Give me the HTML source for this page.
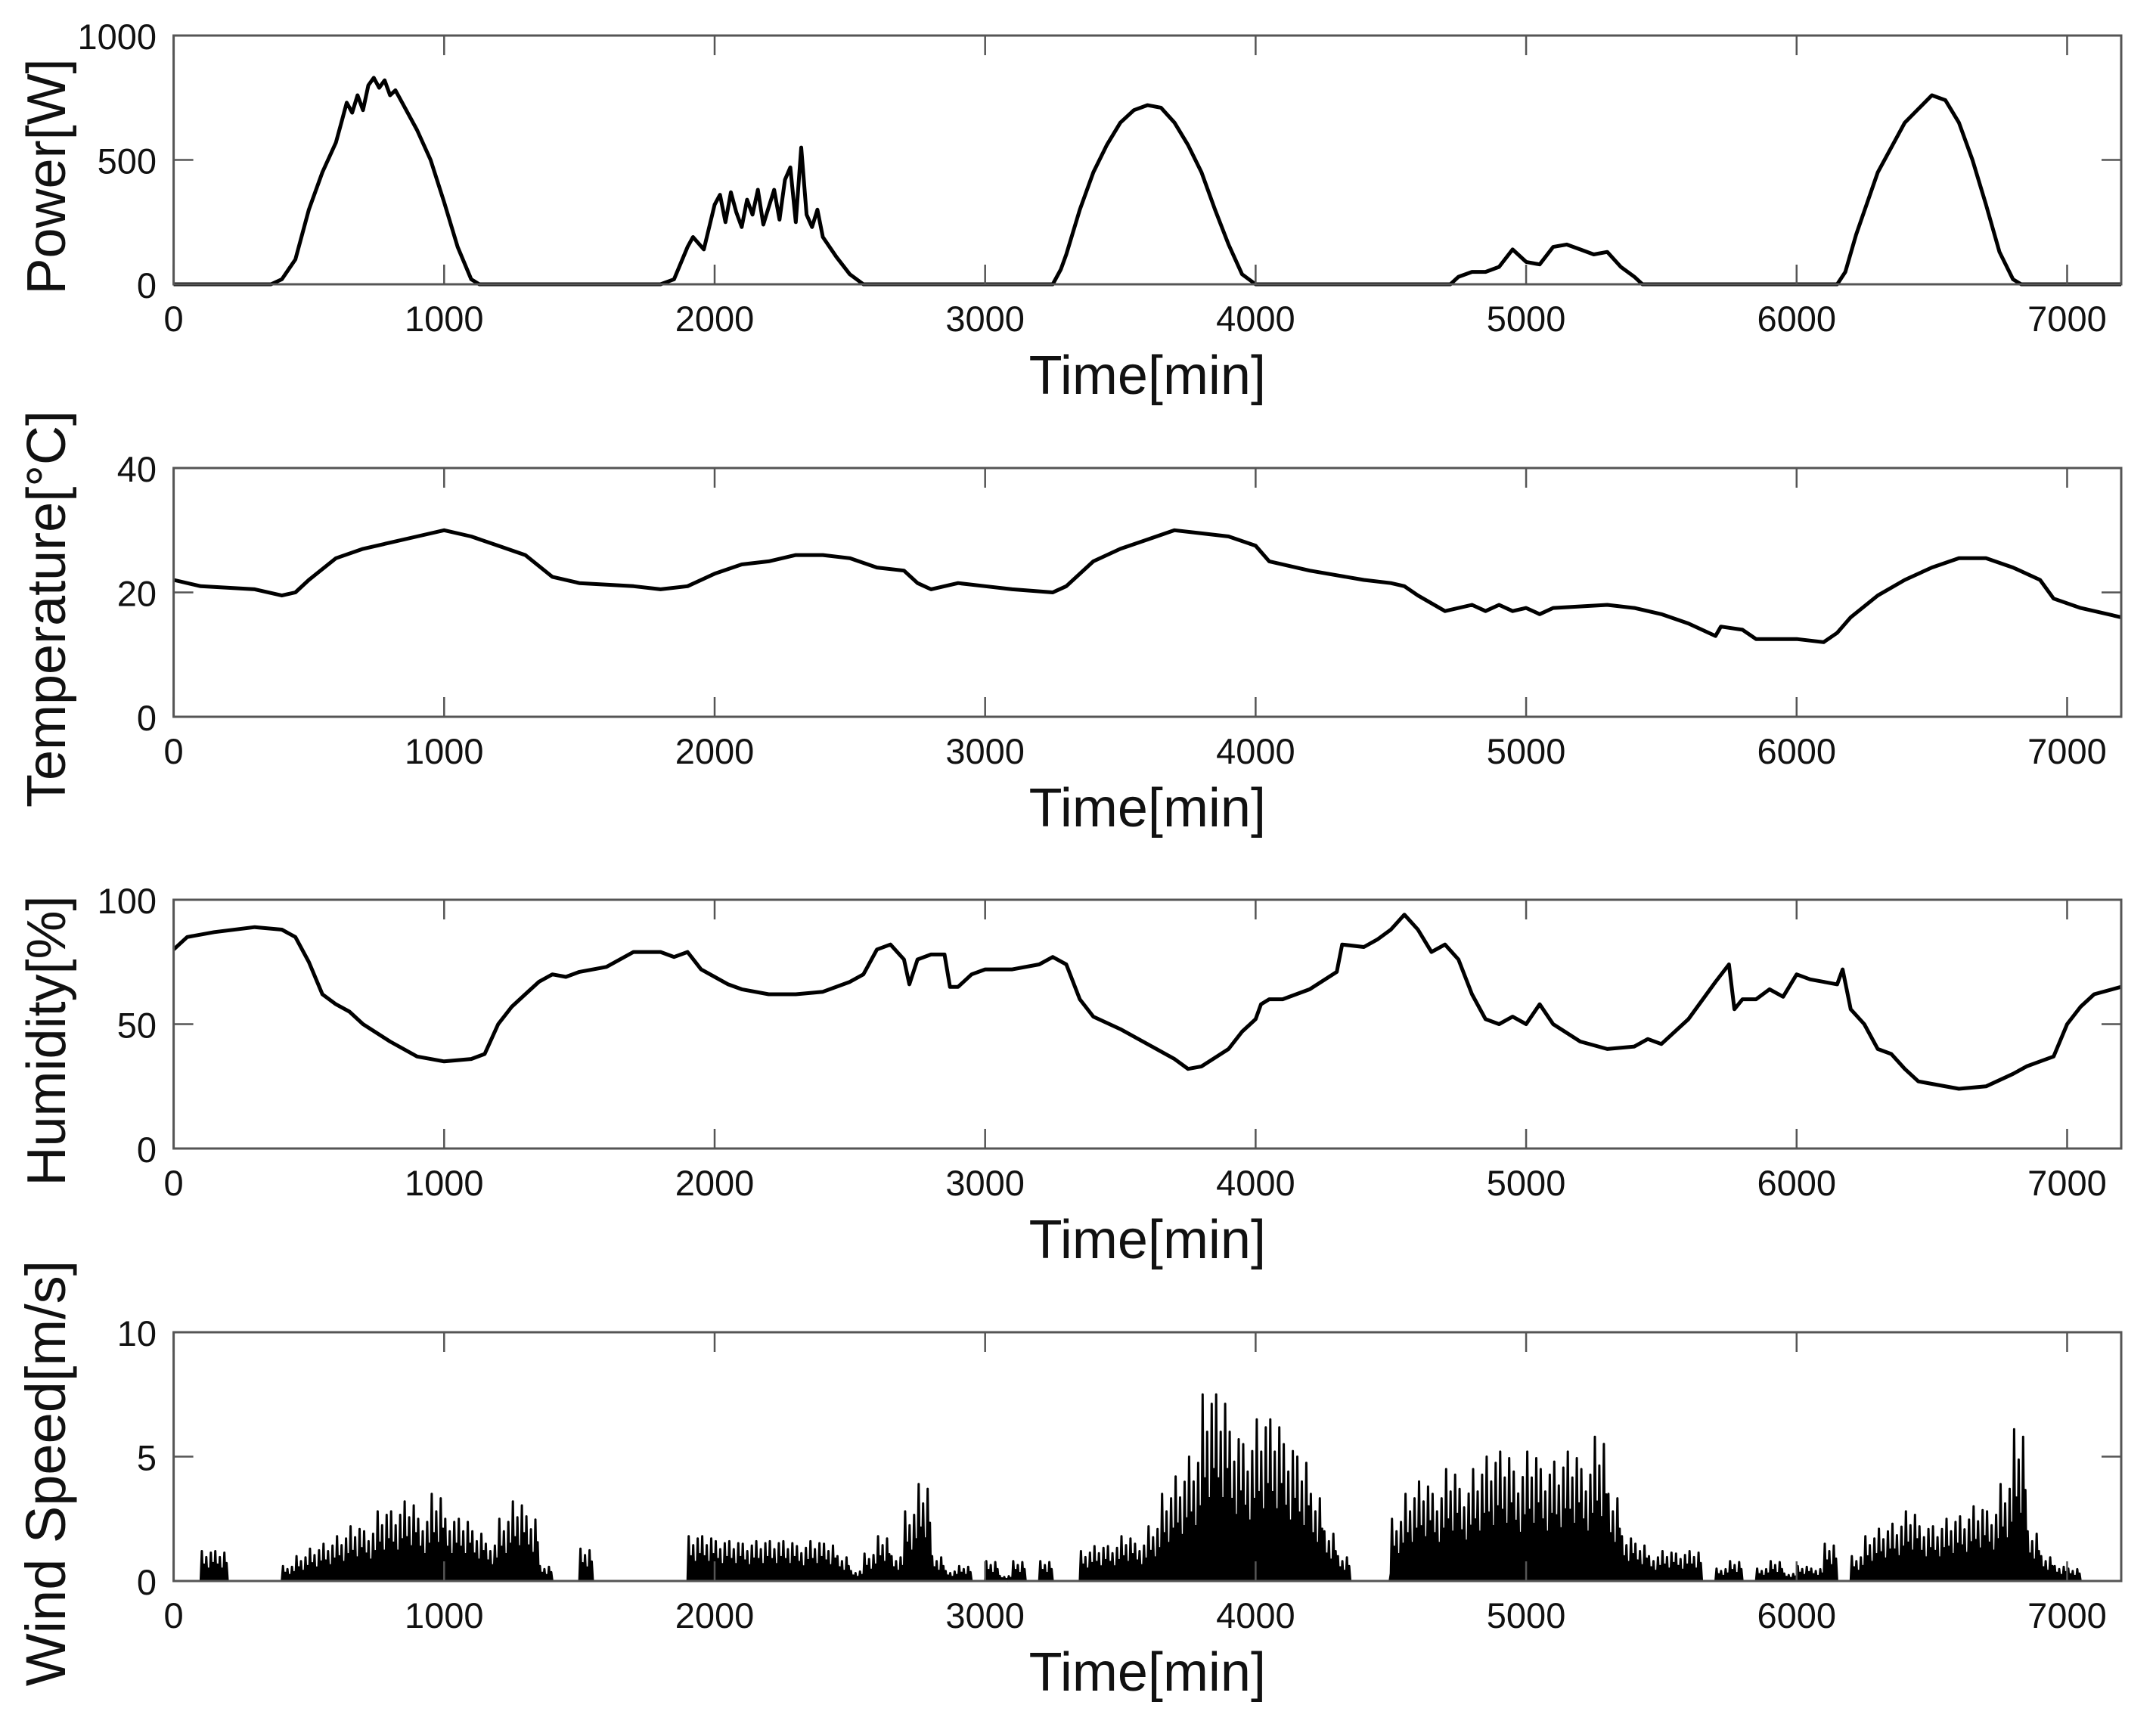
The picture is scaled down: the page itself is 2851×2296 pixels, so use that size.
<!DOCTYPE html>
<html><head><meta charset="utf-8"><style>
html,body{margin:0;padding:0;background:#fff;}
svg{display:block;font-family:"Liberation Sans",sans-serif;}
</style></head><body>
<svg id="fig" width="2851" height="2296" viewBox="0 0 2851 2296"></svg>
<script>
const xTicks=[0,1000,2000,3000,4000,5000,6000,7000];
const powerT=[0,360,400,450,500,550,600,620,640,660,680,700,720,740,760,780,800,820,850,900,950,1000,1050,1100,1130,1800,1850,1900,1920,1960,2000,2020,2040,2060,2080,2100,2120,2140,2160,2180,2200,2220,2240,2260,2280,2300,2320,2340,2360,2380,2400,2450,2500,2550,3250,3280,3300,3350,3400,3450,3500,3550,3600,3650,3700,3750,3800,3850,3900,3950,4000,4720,4750,4800,4850,4900,4950,5000,5050,5100,5150,5200,5250,5300,5350,5400,5430,6150,6180,6220,6300,6400,6500,6550,6600,6650,6700,6750,6800,6830,7200];
const powerV=[0,0,20,100,300,450,570,650,730,690,760,700,800,830,790,820,760,780,720,620,500,330,150,20,0,0,20,150,190,140,320,360,250,370,290,230,340,280,380,240,310,380,260,420,470,250,550,280,230,300,190,110,40,0,0,60,120,300,450,560,650,700,720,710,650,560,450,300,160,40,0,0,30,50,50,70,140,90,80,150,160,140,120,130,70,30,0,0,50,200,450,650,760,740,650,500,320,130,20,0,0];
const tempT=[0,100,300,400,450,500,600,700,800,900,1000,1100,1200,1300,1400,1500,1700,1800,1900,2000,2100,2200,2300,2400,2500,2600,2700,2750,2800,2850,2900,3000,3100,3250,3300,3400,3500,3600,3700,3800,3900,4000,4050,4200,4400,4500,4550,4600,4700,4800,4850,4900,4950,5000,5050,5100,5300,5400,5500,5600,5700,5720,5800,5850,6000,6100,6150,6200,6300,6400,6500,6600,6700,6800,6900,6950,7050,7200];
const tempV=[22,21,20.5,19.5,20,22,25.5,27,28,29,30,29,27.5,26,22.5,21.5,21,20.5,21,23,24.5,25,26,26,25.5,24,23.5,21.5,20.5,21,21.5,21,20.5,20,21,25,27,28.5,30,29.5,29,27.5,25,23.5,22,21.5,21,19.5,17,18,17,18,17,17.5,16.5,17.5,18,17.5,16.5,15,13,14.5,14,12.5,12.5,12,13.5,16,19.5,22,24,25.5,25.5,24,22,19,17.5,16];
const humT=[0,50,150,300,400,450,500,550,600,650,700,800,900,950,1000,1100,1150,1200,1250,1300,1350,1400,1450,1500,1600,1700,1800,1850,1900,1950,2000,2050,2100,2200,2300,2400,2500,2550,2600,2650,2700,2720,2750,2800,2850,2870,2900,2950,3000,3100,3200,3250,3300,3350,3400,3500,3600,3700,3750,3800,3900,3950,4000,4020,4050,4100,4200,4300,4320,4400,4450,4500,4550,4600,4650,4700,4750,4800,4850,4900,4950,5000,5050,5100,5200,5300,5400,5450,5500,5600,5700,5750,5770,5800,5850,5900,5950,6000,6050,6100,6150,6170,6200,6250,6300,6350,6400,6450,6500,6600,6700,6800,6850,6900,6950,7000,7050,7100,7200];
const humV=[80,85,87,89,88,85,75,62,58,55,50,43,37,36,35,36,38,50,57,62,67,70,69,71,73,79,79,77,79,72,69,66,64,62,62,63,67,70,80,82,76,66,76,78,78,65,65,70,72,72,74,77,74,60,53,48,42,36,32,33,40,47,52,58,60,60,64,71,82,81,84,88,94,88,79,82,76,62,52,50,53,50,58,50,43,40,41,44,42,52,67,74,56,60,60,64,61,70,68,67,66,72,56,50,40,38,32,27,26,24,25,30,33,35,37,50,57,62,65];
const windHigh=[0,0,1.2,1.2,0,0,0,0,0.6,1.0,1.3,1.5,1.8,2.2,2.0,2.8,2.8,3.2,2.5,3.5,2.5,2.5,2.0,1.5,2.5,3.2,2.6,0.6,0,0,1.3,0,0,0,0,0,0,0,1.8,1.8,1.6,1.6,1.5,1.6,1.6,1.6,1.4,1.6,1.5,1.0,0.4,1.1,1.8,1.0,2.8,3.9,1.0,0.4,0.6,0,0.8,0.2,0.8,0,0.8,0,0,1.2,1.4,1.4,1.8,1.5,2.2,3.5,4.2,5.0,7.5,7.5,6.0,5.5,6.5,6.5,5.5,5.0,3.5,2.0,1.0,0,0,0,2.5,3.5,4.0,3.5,4.5,3.7,4.5,5.0,5.2,4.4,5.2,4.5,4.8,5.2,4.5,5.8,3.5,1.8,1.5,1.0,1.2,1.1,1.2,0,0.5,0.8,0,0.5,0.8,0.3,0.6,0.5,1.5,0,1.0,1.8,2.1,2.3,2.8,2.2,2.2,2.5,2.6,3.0,2.8,3.9,6.1,2.0,1.0,0.6,0.5,0,0,0,0.3];
const windLow=[0,0,0,0,0,0,0,0,0,0,0,0.2,0.2,0.3,0.3,0.5,0.5,0.6,0.4,0.6,0.5,0.4,0.4,0.3,0.5,0.6,0.4,0,0,0,0,0,0,0,0,0,0,0,0,0.2,0.2,0.2,0.2,0.2,0.2,0.2,0.2,0.2,0.2,0,0,0,0,0,0.8,1.2,0,0,0,0,0,0,0,0,0,0,0,0,0,0.2,0.3,0.3,0.5,0.8,1.0,1.2,1.4,1.5,1.5,1.2,1.3,1.3,1.2,1.0,0.6,0.3,0,0,0,0,0.5,0.8,1.0,1.0,1.2,1.2,1.4,1.5,1.5,1.5,1.5,1.5,1.5,1.4,1.3,1.2,0.8,0.3,0.2,0,0,0,0,0,0,0,0,0,0,0,0,0,0,0,0,0.3,0.5,0.6,0.7,0.6,0.6,0.7,0.8,0.9,0.9,1.2,1.5,0.5,0.2,0,0,0,0,0,0];
const windStep=50;

const NS="http://www.w3.org/2000/svg";
const svg=document.getElementById('fig');
const X0=229.6,X1=2805,TMAX=7200,PH=329;
function xs(t){return X0+(X1-X0)*Math.min(t,TMAX)/TMAX;}
function mk(tag,attrs,parent){const e=document.createElementNS(NS,tag);for(const k in attrs)e.setAttribute(k,attrs[k]);(parent||svg).appendChild(e);return e;}

const panels=[
 {key:'power',label:'Power[W]',ymax:1000,yt:[0,500,1000],top:47},
 {key:'temperature',label:'Temperature[\u00B0C]',ymax:40,yt:[0,20,40],top:619},
 {key:'humidity',label:'Humidity[%]',ymax:100,yt:[0,50,100],top:1190},
 {key:'wind-speed',label:'Wind Speed[m/s]',ymax:10,yt:[0,5,10],top:1762}
];
panels.forEach((p,i)=>{
 const g=mk('g',{});
 
 
 const bot=p.top+PH;
 const ys=v=>bot-PH*v/p.ymax;
 let d='';
 if(p.key==='power'){powerT.forEach((t,j)=>{d+=(j?'L':'M')+xs(t).toFixed(1)+' '+ys(powerV[j]).toFixed(1);});}
 else if(p.key==='temperature'){tempT.forEach((t,j)=>{d+=(j?'L':'M')+xs(t).toFixed(1)+' '+ys(tempV[j]).toFixed(1);});}
 else if(p.key==='humidity'){humT.forEach((t,j)=>{d+=(j?'L':'M')+xs(t).toFixed(1)+' '+ys(humV[j]).toFixed(1);});}
 else {
  let core='M'+xs(0)+' '+ys(0);
  windHigh.forEach((v,j)=>{const t=j*windStep;
   if(t>=TMAX) return;
   core+='L'+xs(t).toFixed(1)+' '+ys(Math.max(windLow[j],v*0.45)).toFixed(1);
   core+='L'+xs(t+windStep).toFixed(1)+' '+ys(Math.max(windLow[j],v*0.45)).toFixed(1);
  });
  core+='L'+xs(TMAX)+' '+ys(0)+'Z';
  const c=mk('path',{d:core,fill:'#000',stroke:'none'},g);
  
  
  const f=[1,0.55,0.8,0.4,0.95,0.6];
  windHigh.forEach((v,j)=>{const t=j*windStep;
   if(t>=TMAX) return;
   for(let k=0;k<6;k++){
    const ta=t+windStep*k/6, tb=t+windStep*(k+0.5)/6;
    d+=(j||k?'L':'M')+xs(ta).toFixed(1)+' '+ys(windLow[j]*0.6).toFixed(1);
    d+='L'+xs(tb).toFixed(1)+' '+ys(v*f[k]).toFixed(1);
   }
  });
 }
 const line=mk('path',{d:d,fill:'none',stroke:'#000','stroke-width':p.key==='wind-speed'?3:5,'stroke-linejoin':'round'},g);
 
 
 const box=mk('rect',{x:X0,y:p.top,width:X1-X0,height:PH,fill:'none',stroke:'#555','stroke-width':3},g);
 
 
 xTicks.forEach(t=>{const x=xs(t);
  mk('line',{x1:x,x2:x,y1:bot,y2:bot-26,stroke:'#555','stroke-width':2.5},g);
  mk('line',{x1:x,x2:x,y1:p.top,y2:p.top+26,stroke:'#555','stroke-width':2.5},g);
  const tl=mk('text',{x:x,y:bot+62,'font-size':47,'text-anchor':'middle',fill:'#111'},g);
  tl.textContent=t;
  
  
 });
 p.yt.forEach(v=>{const y=ys(v);
  mk('line',{x1:X0,x2:X0+26,y1:y,y2:y,stroke:'#555','stroke-width':2.5},g);
  mk('line',{x1:X1,x2:X1-26,y1:y,y2:y,stroke:'#555','stroke-width':2.5},g);
  const tl=mk('text',{x:207,y:y+18,'font-size':47,'text-anchor':'end',fill:'#111'},g);
  tl.textContent=v;
  
  
 });
 const xl=mk('text',{x:(X0+X1)/2,y:bot+145,'font-size':72,'text-anchor':'middle',fill:'#111'},g);
 xl.textContent='Time[min]';
 
 
 const cy=p.top+PH/2+22;
 const yl=mk('text',{x:0,y:0,'font-size':i===3?74:72,'text-anchor':'middle',fill:'#111',transform:'translate(86,'+cy+') rotate(-90)'},g);
 yl.textContent=p.label;
 
 
});
</script>
</body></html>
